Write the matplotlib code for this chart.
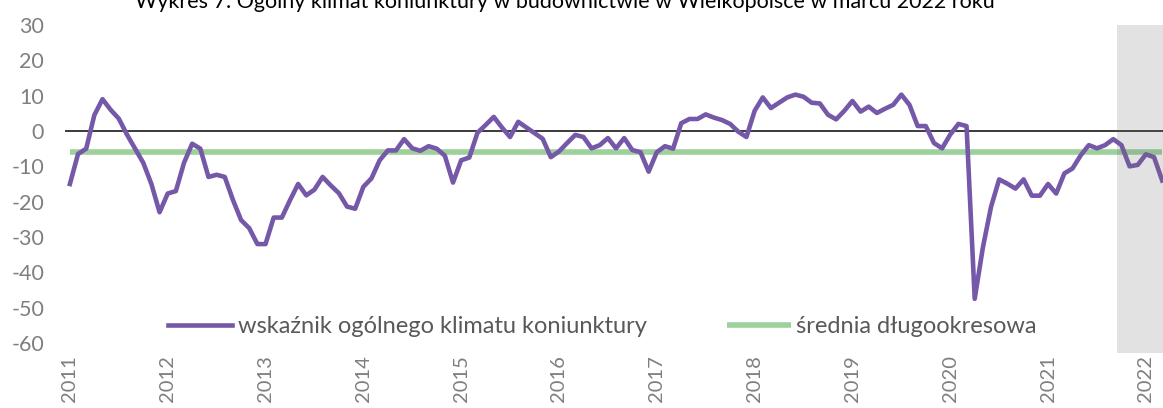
import numpy as np
import pandas as pd
from matplotlib import pyplot as plt

plt.rcParams['font.family'] = ['Lato', 'DejaVu Sans']

title = "Wykres 7. Ogólny klimat koniunktury w budownictwie w Wielkopolsce w marcu 2022 roku"

# monthly values, Jan 2011 - Mar 2022
klimat = [
    -15, -6.5, -5, 4.5, 9, 6, 3.5, -1, -5, -9, -15, -23,                # 2011
    -17.7, -17, -9, -3.6, -5, -13, -12.4, -13, -19.5, -25.2, -27.5, -32,  # 2012
    -32, -24.5, -24.5, -19.6, -15, -18.2, -16.6, -13, -15.4, -17.6, -21.4, -22,  # 2013
    -15.8, -13.4, -8.3, -5.5, -5.5, -2.3, -4.9, -5.6, -4.3, -5, -7, -14.6,  # 2014
    -8.3, -7.5, -0.5, 1.7, 4, 1, -1.7, 2.6, 1, -0.6, -2.2, -7.4,         # 2015
    -5.8, -3.4, -1.1, -1.7, -4.9, -4, -2, -4.9, -2, -5.4, -6, -11.5,     # 2016
    -6, -4.3, -5, 2.2, 3.4, 3.4, 4.7, 3.8, 3.1, 2, -0.2, -1.7,           # 2017
    5.7, 9.5, 6.5, 8, 9.5, 10.3, 9.7, 8, 7.8, 4.6, 3.3, 5.7,             # 2018
    8.5, 5.5, 6.9, 5.1, 6.3, 7.4, 10.3, 7.4, 1.4, 1.4, -3.4, -4.9,       # 2019
    -1, 2, 1.4, -47.5, -33, -21.5, -13.7, -14.9, -16.3, -13.7, -18.3, -18.3,  # 2020
    -15, -17.7, -12, -10.6, -6.9, -4, -4.9, -4, -2.3, -4, -10, -9.6,     # 2021
    -6.6, -7.4, -14,                                                     # 2022
]
srednia = -6.0
months = pd.date_range("2011-01-01", periods=len(klimat), freq="MS")
year_labels = [str(y) for y in range(2011, 2023)]
y_ticks = [30, 20, 10, 0, -10, -20, -30, -40, -50, -60]
shade_start = pd.Timestamp("2021-10-01")

x = np.arange(len(months))
shade_i = int(np.where(months == shade_start)[0][0])

fig = plt.figure(figsize=(11.63, 4.08), dpi=100)
ax = fig.add_axes([65 / 1163, 65 / 408, 1098 / 1163, 318 / 408])

ax.axhline(0, color='#2b2b2b', lw=1.3, zorder=1)
ax.plot(x, [srednia] * len(x), color='#9dd09b', lw=4, solid_capstyle='butt',
        label='średnia długookresowa', zorder=2)
ax.plot(x, klimat, color='#7658a8', lw=3.3, label='wskaźnik ogólnego klimatu koniunktury',
        zorder=3)

ax.axvspan(shade_i - 0.5, len(x) + 1, ymin=-0.03, ymax=1.0, color='#6e6e6e', alpha=0.2,
           lw=0, zorder=4, clip_on=False)

ax.set_xlim(-0.6, len(x) - 0.9)
ax.set_ylim(-60, 30)
ax.set_yticks(y_ticks)
ax.set_yticklabels([str(t) for t in y_ticks])
ax.set_xticks(x[::12])
ax.set_xticklabels(year_labels, rotation=90)
ax.tick_params(axis='y', length=0, pad=15, labelsize=15.5, labelcolor='#7f7f7f')
ax.tick_params(axis='x', length=0, pad=9, labelsize=14.5, labelcolor='#7f7f7f')
for s in ax.spines.values():
    s.set_visible(False)

h, l = ax.get_legend_handles_labels()
ax.legend(h[::-1], l[::-1], loc='center', bbox_to_anchor=(0.518, 0.199),
          bbox_transform=fig.transFigure, ncol=2, frameon=False, fontsize=17,
          labelcolor='#595959', handlelength=2.7, handletextpad=0.25, columnspacing=3.4)

fig.text(0.486, 400 / 408, title, ha='center', va='baseline', fontsize=15.5, color='black')

plt.savefig("out.png", dpi=100)
